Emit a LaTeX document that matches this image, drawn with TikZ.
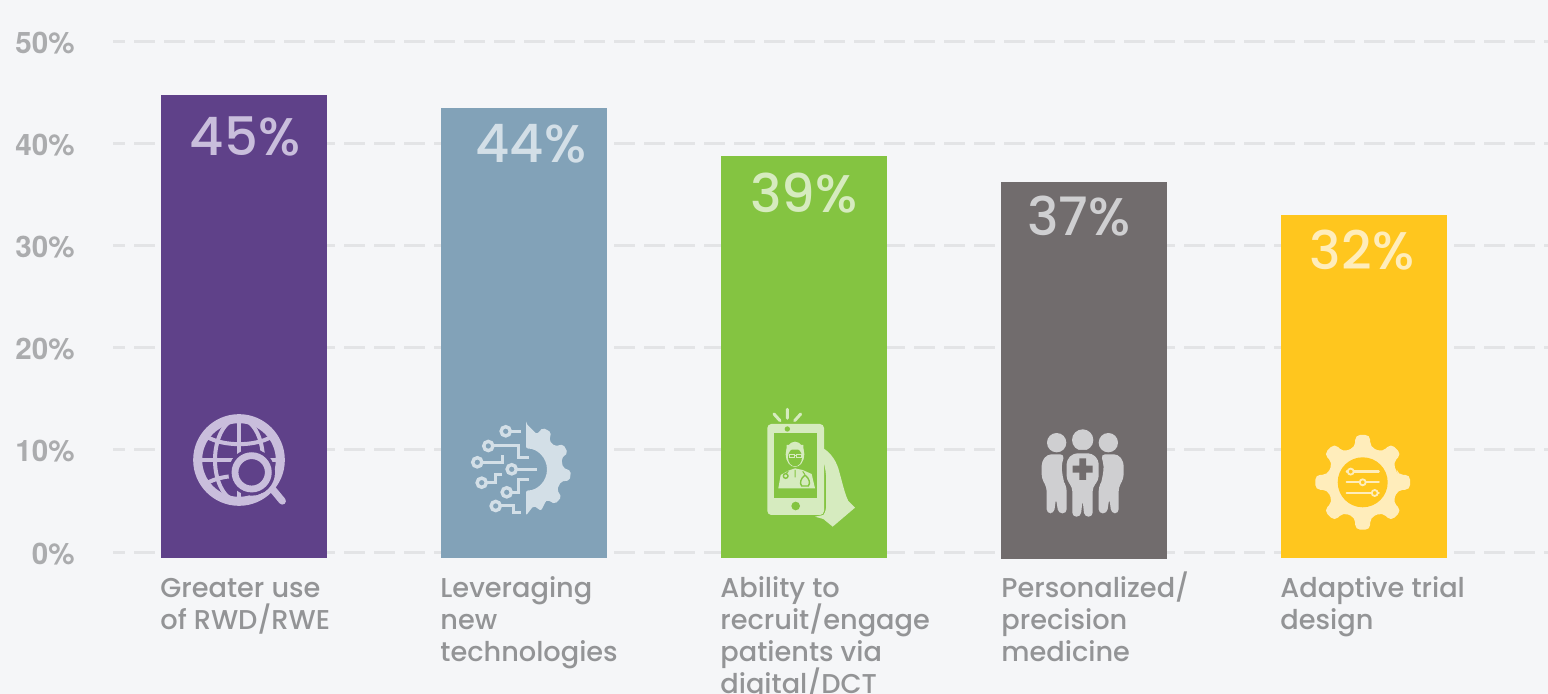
\documentclass[tikz,border=0pt]{standalone}
\usepackage{fontspec}
\setmainfont{Poppins}
\newfontfamily\labfont{Poppins Medium}
\newfontfamily\axisfont{TeX Gyre Heros}
\definecolor{bgc}{HTML}{F5F6F8}
\definecolor{gridc}{HTML}{E3E4E6}
\definecolor{axisc}{HTML}{ABACAE}
\definecolor{labc}{HTML}{939496}
\definecolor{purp}{HTML}{5F4189}\definecolor{purpL}{HTML}{C9BEDC}
\definecolor{blu}{HTML}{82A2B8}\definecolor{bluL}{HTML}{D3DFE7}
\definecolor{grn}{HTML}{84C441}\definecolor{grnL}{HTML}{D6EBBF}
\definecolor{gry}{HTML}{716C6D}\definecolor{gryL}{HTML}{CFCFD1}
\definecolor{yel}{HTML}{FFC61E}\definecolor{yelL}{HTML}{FFEDBB}
\tikzset{
 gridline/.style={gridc,line width=1.5pt,dash pattern=on 10.5pt off 4.5pt,dash phase=4.5pt},
 axislab/.style={anchor=east,inner sep=0pt,text=axisc,font=\axisfont\fontsize{14.8}{16}\selectfont\bfseries},
 barbox/.style={anchor=north west,inner sep=0pt,outer sep=0pt,minimum width=83pt,fill=#1},
 vallab/.style={inner sep=0pt,text=#1,font=\labfont\fontsize{26.5}{28}\selectfont},
 catlab/.style={anchor=north west,inner sep=0pt,align=left,text=labc,font=\labfont\fontsize{13.6}{16}\selectfont},
 zoomed/.style={shift={#1},scale=1/3},
}
\newcommand{\catfirst}{\leavevmode\vrule width 0pt height 14pt depth 0pt\relax}
\AtBeginDocument{\lineskiplimit=-100pt\relax}
\begin{document}
\begin{tikzpicture}[x=0.5pt,y=-0.5pt]
\useasboundingbox (0,0) rectangle (1548,694);
\clip (0,0) rectangle (1548,694);
\fill[bgc] (0,0) rectangle (1548,694);
% grid
\foreach \yy/\tt in {42/50,144/40,246/30,348/20,450/10,553/0}{
  \draw[gridline] (113,\yy) -- (1548,\yy);
  \node[axislab] (ax\tt) at (75,\yy+1) {\tt\%};
}
% bars
\node[barbox=purp,minimum height=231.5pt] (b1) at (161,95) {};
\node[barbox=blu,minimum height=225pt] (b2) at (441,108) {};
\node[barbox=grn,minimum height=201pt] (b3) at (721,156) {};
\node[barbox=gry,minimum height=188.5pt] (b4) at (1001,182) {};
\node[barbox=yel,minimum height=171.5pt] (b5) at (1281,215) {};
% values
\node[vallab=purpL] (v1) at (245,136) {45\%};
\node[vallab=bluL] (v2) at (531,144) {44\%};
\node[vallab=grnL] (v3) at (804,193) {39\%};
\node[vallab=gryL] (v4) at (1079,216) {37\%};
\node[vallab=yelL] (v5) at (1362,250) {32\%};
% labels
\node[catlab] (l1) at (160,569) {\catfirst Greater use\\of RWD/RWE};
\node[catlab] (l2) at (440,569) {\catfirst Leveraging\\new\\technologies};
\node[catlab] (l3) at (720,569) {\catfirst Ability to\\recruit/engage\\patients via\\digital/DCT};
\node[catlab] (l4) at (1001,569) {\catfirst Personalized/\\precision\\medicine};
\node[catlab] (l5) at (1280,569) {\catfirst Adaptive trial\\design};
% globe icon
\begin{scope}[zoomed={(160,400)}]
 \draw[purpL,line width=4.5pt] (237,180) circle (124);
 \begin{scope}
  \clip (237,180) circle (120);
  \draw[purpL,line width=2pt] (237,55) -- (237,305) (110,180) -- (365,180);
  \draw[purpL,line width=2pt] (237,180) ellipse (72 and 125);
  \draw[purpL,line width=2pt] (140,110) .. controls (190,140) and (285,140) .. (335,110);
  \draw[purpL,line width=2pt] (140,250) .. controls (190,220) and (285,220) .. (335,250);
 \end{scope}
 \fill[purp] (275,217) circle (70);
 \draw[purpL,line width=3.4pt] (275,217) circle (50);
 \draw[purpL,line width=3.6pt,line cap=round] (338,268) -- (367,303);
 \draw[purpL,line width=2.4pt] (200,290) .. controls (225,305) and (270,310) .. (310,285);
\end{scope}
% half gear + circuit icon
\begin{scope}[shift={(526,469.5)}]
 \fill[bluL,rounded corners=1pt] (0,-46)
  foreach \a in {-62,-28,8,44}{ -- (\a-11:37) -- (\a-6:45) -- (\a+6:45) -- (\a+11:37)}
  -- (57:37) -- (70:44) -- (78:37) -- (90:46) -- (0,46) -- (0,21) arc (90:-90:21) -- (0,-46) -- cycle;
\end{scope}
\begin{scope}
 \tikzset{trace/.style={bluL,line width=1.5pt},pad/.style={bluL,line width=1.7pt,fill=blu}}
 \draw[trace] (505.7,431.3) -- (521,431.3);
 \draw[trace] (488.3,446) -- (518.3,446) -- (518.3,457.3) -- (529.3,457.3);
 \draw[trace] (477.3,462.3) -- (502.3,462.3) -- (502.3,455);
 \draw[trace] (511.7,469.3) -- (536.7,469.3);
 \draw[trace] (481.7,482.7) -- (495,482.7) -- (495,475) -- (502.3,475);
 \draw[trace] (506.7,492.3) -- (518.3,492.3) -- (518.3,480) -- (529.3,480);
 \draw[trace] (495.7,506) -- (513.3,506) -- (513.3,512.7) -- (521,512.7);
 \foreach \p in {(505.7,431.3),(488.3,446),(477.3,462.3),(511.7,469.3),(481.7,482.7),(506.7,492.3),(495.7,506)}
  \draw[pad] \p circle (4.6);
\end{scope}
% phone icon
\begin{scope}[zoomed={(720,400)}]
 \draw[grnL,line width=1.5pt,line cap=round] (202,28) -- (202,55) (162,42) -- (180,62) (242,42) -- (224,62);
 \fill[grnL] (300,140) .. controls (325,150) and (345,175) .. (355,205)
   .. controls (365,240) and (375,285) .. (385,303) -- (405,323) -- (338,380)
   -- (310,357) -- (285,350) -- (310,345) .. controls (318,335) and (320,320) .. (318,300)
   -- (318,225) .. controls (315,190) and (305,170) .. (295,155) -- cycle;
 \fill[grnL,rounded corners=2pt] (142,72) rectangle (312,345);
 \fill[grn] (163,98) rectangle (290,295);
 \fill[grn] (202,87) circle (8);
 \fill[grn] (227,318) circle (13);
 \fill[grnL] (175,265) -- (182,225) -- (205,212) -- (225,205) -- (248,210) -- (275,222) -- (285,265) -- cycle;
 \fill[grnL] (225,163) ellipse (28 and 38);
 \fill[grn] (225,172) ellipse (21 and 27);
 \fill[grnL] (200,150) .. controls (215,148) and (235,148) .. (250,150) -- (250,135) -- (200,135) -- cycle;
 \draw[grnL,line width=.5pt] (208,164) rectangle (222,172) (228,164) rectangle (243,172) (222,167) -- (228,167);
 \draw[grn,line width=.7pt] (197,228) circle (7);
 \draw[grn,line width=.7pt] (255,225) .. controls (268,235) and (272,250) .. (265,258) -- (245,258) .. controls (238,250) and (242,235) .. (255,225);
 \draw[grn,line width=.5pt] (225,210) -- (225,232) (205,214) -- (197,222) (248,214) -- (255,224);
\end{scope}
% people icon
\begin{scope}[zoomed={(720,400)}]
 \fill[gryL] (1010,128) circle (29) (1088,120) circle (32) (1165,128) circle (29);
 \fill[gryL,rounded corners=2pt] (982,163) -- (1033,163) -- (1024,200) -- (1030,240) -- (1040,262) -- (1040,340) -- (1015,340) -- (1008,295) -- (1002,340) -- (980,340) -- (980,262) -- (965,235) -- (965,185) -- cycle;
 \fill[gryL,rounded corners=2pt] (1194,163) -- (1143,163) -- (1152,200) -- (1146,240) -- (1136,262) -- (1136,340) -- (1161,340) -- (1168,295) -- (1174,340) -- (1196,340) -- (1196,262) -- (1211,235) -- (1211,185) -- cycle;
 \fill[gry] (1058,150) .. controls (1030,170) and (1030,220) .. (1032,245) -- (1048,270) -- (1048,345) -- (1128,345) -- (1128,270) -- (1144,245) .. controls (1146,220) and (1146,170) .. (1118,150) -- cycle;
 \fill[gryL,rounded corners=2pt] (1060,160) -- (1116,160) -- (1136,180) -- (1136,240) -- (1118,262) -- (1118,350) -- (1093,350) -- (1088,300) -- (1082,350) -- (1057,350) -- (1057,262) -- (1040,240) -- (1040,180) -- cycle;
 \fill[gry] (1078,175) rectangle (1098,240) (1058,197) rectangle (1118,218);
\end{scope}
% full gear icon
\begin{scope}[shift={(1362.7,482.3)}]
 \fill[yelL,rounded corners=2.5pt] (-13:36)
  foreach \a in {0,45,...,315}{ -- (\a-12:36) -- (\a-9:48) -- (\a+9:48) -- (\a+12:36)} -- cycle;
 \fill[yel] (0,0) circle (25);
 \foreach \yy/\xx in {-10.7/-12,0/0,10.7/12}{
  \draw[yelL,line width=1.15pt,line cap=round] (-16,\yy) -- (16,\yy);
  \draw[yelL,line width=.9pt,fill=yel] (\xx,\yy) circle (3);
 }
\end{scope}
\end{tikzpicture}
\end{document}
